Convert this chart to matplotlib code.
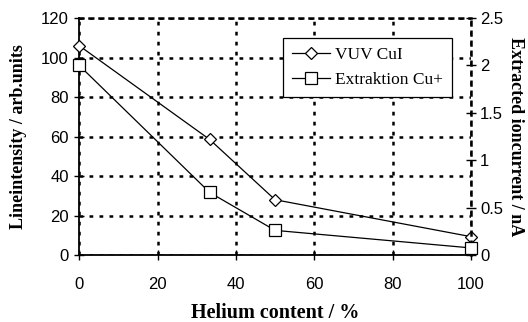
import matplotlib.pyplot as plt

# Daten
helium = [0, 33.3, 50, 100]
vuv_cui = [106, 58.5, 28, 9.3]
extraktion_cu = [2.0, 0.66, 0.26, 0.075]

sans = 'Liberation Sans'
serif = 'Liberation Serif'

fig = plt.figure(figsize=(5.28, 3.22), dpi=100)
ax = fig.add_axes([0.15, 0.208, 0.742, 0.736])
ax2 = ax.twinx()

ax.set_xlim(0, 100)
ax.set_ylim(0, 120)
ax2.set_ylim(0, 2.5)

ax.set_xticks([0, 20, 40, 60, 80, 100])
ax.set_yticks(range(0, 121, 20))
ax2.set_yticks([0, 0.5, 1, 1.5, 2, 2.5])
ax2.set_yticklabels(['0', '0.5', '1', '1.5', '2', '2.5'])

ax.set_axisbelow(True)
ax.grid(True, color='black', linestyle=(0, (1.5, 2.5)), linewidth=1.8)
ax.spines['top'].set_visible(False)
ax.spines['right'].set_visible(False)
ax2.spines['top'].set_linestyle((0, (1.5, 2.5)))
ax2.spines['top'].set_linewidth(1.8)
ax2.spines['right'].set_linestyle((0, (1.5, 2.5)))
ax2.spines['right'].set_linewidth(1.8)
ax2.spines['left'].set_visible(False)
ax2.spines['bottom'].set_visible(False)
ax.spines['left'].set_linewidth(1.3)
ax.spines['bottom'].set_linewidth(1.3)
ax.spines['left'].set_zorder(3)
ax.spines['bottom'].set_zorder(3)

ax.tick_params(direction='inout', length=7, width=1, labelsize=12, pad=12)
ax.tick_params(axis='y', pad=4)
ax2.tick_params(direction='inout', length=7, width=1, labelsize=12, pad=3)
for lab in ax.get_xticklabels() + ax.get_yticklabels() + ax2.get_yticklabels():
    lab.set_fontfamily(sans)

l1, = ax.plot(helium, vuv_cui, color='black', linewidth=0.9, marker='D',
              markersize=6, markerfacecolor='white', markeredgecolor='black',
              markeredgewidth=0.9, label='VUV CuI', zorder=5, clip_on=False)
l2, = ax2.plot(helium, extraktion_cu, color='black', linewidth=0.9, marker='s',
               markersize=8.5, markerfacecolor='white', markeredgecolor='black',
               markeredgewidth=0.9, label='Extraktion Cu+', zorder=5, clip_on=False)

ax.set_xlabel('Helium content / %', fontfamily=serif, fontweight='bold',
              fontsize=14.5, labelpad=8)
ax.set_ylabel('Lineintensity / arb.units', fontfamily=serif, fontweight='bold',
              fontsize=13, labelpad=10)
ax2.set_ylabel('Extracted ioncurrent / nA', fontfamily=serif, fontweight='bold',
               fontsize=13, rotation=270, labelpad=15)

leg = ax2.legend(handles=[l1, l2], loc='upper left',
                 bbox_to_anchor=(0.52, 0.915), prop={'family': serif, 'size': 12.5},
                 fancybox=False, framealpha=1, edgecolor='black',
                 handlelength=2.2, handletextpad=0.3, borderpad=0.5,
                 labelspacing=0.5, borderaxespad=0)
leg.get_frame().set_linewidth(0.9)

fig.savefig('out.png', dpi=100)
